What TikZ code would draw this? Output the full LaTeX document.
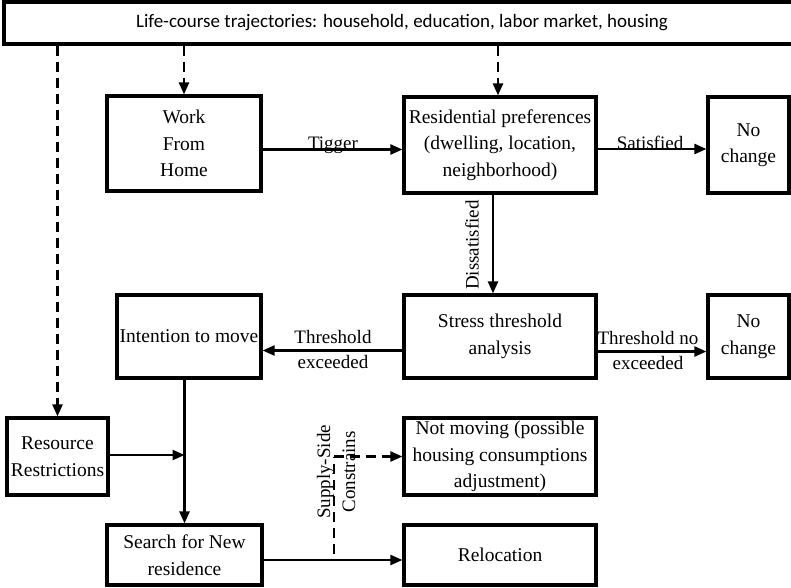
\documentclass[tikz,border=0pt]{standalone}
\usepackage{fontspec}
\setmainfont{Liberation Serif}
\newfontfamily\calib{Carlito}
\usetikzlibrary{arrows.meta,calc}
\begin{document}
\begin{tikzpicture}[x=1pt,y=-1pt,
 box/.style={draw,line width=3.2pt,align=center,inner sep=0pt,font=\fontsize{19.5}{26.5}\selectfont},
 arr/.style={line width=2.4pt,-{Triangle[length=12pt,width=10pt]}},
 darr/.style={arr,dash pattern=on 10pt off 6pt},
 dline/.style={line width=2.4pt,dash pattern=on 10pt off 6pt},
 lbl/.style={font=\fontsize{19}{25}\selectfont,inner sep=0pt,align=center}]
\useasboundingbox (0,0) rectangle (791,587);
\node[box,minimum width=796pt,minimum height=42pt,font=\calib\fontsize{19}{22}\selectfont] (top) at (402,23) {Life-course trajectories: household, education, labor market, housing};
\node[box,minimum width=154pt,minimum height=95pt] (wfh) at (184,143.5) {Work\\From\\Home};
\node[box,minimum width=192pt,minimum height=96pt] (res) at (500,145) {Residential preferences\\(dwelling, location,\\neighborhood)};
\node[box,minimum width=81pt,minimum height=96pt] (nc1) at (748.5,145) {No\\change};
\node[box,minimum width=192pt,minimum height=83pt] (stress) at (500,336.5) {Stress threshold\\analysis};
\node[box,minimum width=81pt,minimum height=83pt] (nc2) at (748.5,336.5) {No\\change};
\node[box,minimum width=144pt,minimum height=83pt] (intent) at (189,336.5) {Intention to move};
\node[box,minimum width=101pt,minimum height=77pt] (resource) at (57.5,456.5) {Resource\\Restrictions};
\node[box,minimum width=192pt,minimum height=77pt] (notmov) at (500,456.5) {Not moving (possible\\housing consumptions\\adjustment)};
\node[box,minimum width=155pt,minimum height=60pt] (search) at (184.5,555) {Search for New\\residence};
\node[box,minimum width=192pt,minimum height=60pt] (reloc) at (500,555) {Relocation};

% dashed from top
\draw[darr] (top.south -| resource.north) -- (resource.north);
\draw[darr] (top.south -| wfh.north) -- (wfh.north);
\draw[darr] ([xshift=-2pt]top.south -| res.north) -- ([xshift=-2pt]res.north);

% solid arrows
\draw[arr] ([yshift=-6pt]wfh.east) -- ([yshift=-6pt]wfh.east -| res.west);
\node[lbl,anchor=base] (ltig) at (333,149) {Tigger};
\draw[arr] ([yshift=-4pt]res.east) -- ([yshift=-4pt]res.east -| nc1.west);
\node[lbl,anchor=base] (lsat) at (650,149) {Satisfied};
\draw[arr] ([xshift=-7pt]res.south) -- ([xshift=-7pt]stress.north);
\node[lbl,rotate=90] (ldis) at (472,245) {Dissatisfied};
\draw[arr] ([yshift=-14pt]stress.west) -- ([yshift=-14pt]stress.west -| intent.east);
\node[lbl] (lthr) at (333,349) {Threshold\\exceeded};
\draw[arr] ([yshift=-15pt]stress.east) -- ([yshift=-15pt]stress.east -| nc2.west);
\node[lbl] (lthn) at (648,350) {Threshold no\\exceeded};
\draw[arr] (intent.south -| search.north) -- (search.north);
\coordinate (join) at ($(resource.east)+(0,-1.5)$);
\draw[arr] (join) -- (join -| search.north);
\draw[arr] ([yshift=-5pt]search.east) -- ([yshift=-5pt]search.east -| reloc.west);
\coordinate (sup) at (334,554);
\draw[dline] (sup) -- (sup |- notmov.west);
\draw[darr] (sup |- notmov.west) -- (notmov.west);
\node[lbl,rotate=90] (lsup) at (336,472) {Supply-Side\\Constrains};
\end{tikzpicture}
\end{document}
